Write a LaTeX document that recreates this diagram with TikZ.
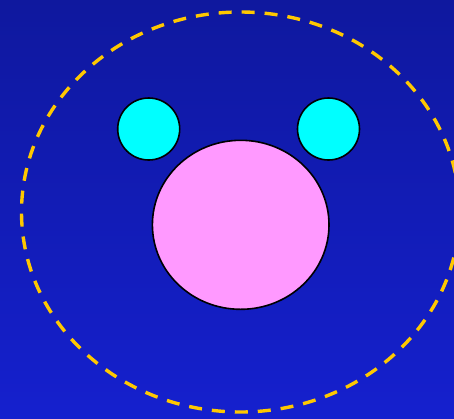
\documentclass[tikz,border=0pt]{standalone}
\usetikzlibrary{shapes.geometric}
\definecolor{bgtop}{RGB}{15,24,158}
\definecolor{bgbot}{RGB}{21,32,206}
\definecolor{dashyel}{RGB}{255,200,0}
\definecolor{pinkfill}{RGB}{255,153,255}
\definecolor{aqua}{RGB}{0,255,255}
\tikzset{
  outline/.style={draw=black, line width=1.6pt},
  orbit/.style={draw=dashyel, line width=3.4pt, dash pattern=on 13pt off 10pt},
}
\begin{document}
\begin{tikzpicture}[x=1pt,y=-1pt]
\useasboundingbox (0,0) rectangle (454,418);
\clip (0,0) rectangle (454,418);
\shade[top color=bgtop, bottom color=bgbot] (0,0) rectangle (454,418);
\draw[orbit] (240.5,212) ellipse [x radius=219, y radius=200];
\draw[outline, fill=pinkfill] (240.7,224.8) ellipse [x radius=88.3, y radius=84.5];
\draw[outline, fill=aqua] (148.7,129) circle [radius=31];
\draw[outline, fill=aqua] (328.5,129) circle [radius=31];
\end{tikzpicture}
\end{document}
